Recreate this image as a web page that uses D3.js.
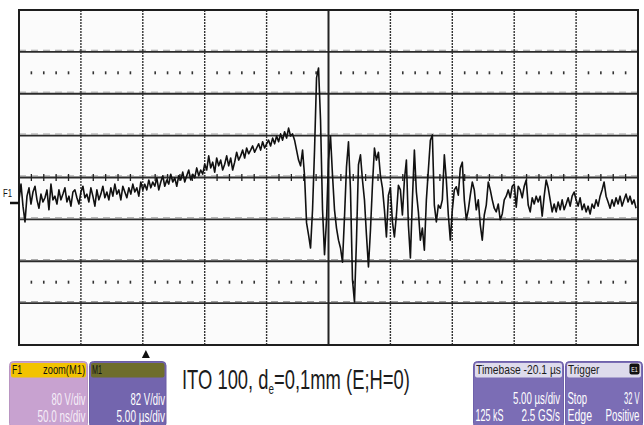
<!DOCTYPE html>
<html><head><meta charset="utf-8">
<script src="https://cdn.jsdelivr.net/npm/d3@7"></script>
<style>html,body{margin:0;padding:0;background:#fff;} svg{display:block}</style>
</head><body>
<svg id="chart" width="644" height="425"></svg>
<script>
// ---------------- data ----------------
const timePerDivUs = 5;          // 5.00 µs/div
const voltsPerDiv = 80;          // 80 V/div
const xDivisions = 10;
const yDivisions = 8;
const traceOffsetVolts = 48.7;   // value at the centre line
const sampleIntervalUs = 0.1613;
const triggerTimeUs = 10.25;

const traceVolts = [
  // 0 - 31
  6,36,-6,-36,13,29,-2,21,32,6,-10,17,2,10,25,-13,36,6,13,-2,25,6,17,29,2,13,-6,21,25,10,-2,21,
  // 32 - 62
  32,10,17,2,29,13,-6,25,6,17,32,10,21,6,29,13,36,17,25,6,32,21,10,29,17,36,21,29,13,40,25,
  // 63 - 93
  36,25,44,29,40,32,48,25,40,52,32,44,36,55,40,48,32,52,44,59,40,52,63,44,55,48,67,52,63,55,74,
  // 94 - 124
  63,90,67,78,59,86,71,82,63,74,90,71,86,63,78,97,82,90,101,86,105,94,101,109,97,105,113,101,117,105,113,
  // 125 - 143
  120,109,124,113,128,117,132,120,136,124,143,128,132,120,101,82,71,101,52,
  // 144 - 230
  -38,-61,-86,-13,101,239,258,159,-13,-99,
  -32,82,128,53,-13,-48,-71,-86,-113,-27,
  69,117,25,-147,-189,-71,73,92,44,6,
  -61,-122,-52,34,105,82,97,52,29,-13,
  -65,15,29,-36,-65,-23,34,25,-23,44,
  82,-42,-105,6,101,21,-17,-71,-48,-90,
  6,63,120,130,-4,-36,-4,-10,6,92,
  44,-23,-71,-13,25,31,15,67,78,6,
  -32,-13,15,40,25,-13,6,
  // 231 - 309
  -42,-71,-23,-4,40,25,6,-10,-17,-2,
  -32,-21,6,13,25,10,32,36,-8,32,
  25,10,32,44,-4,-17,10,-2,13,2,
  13,-25,13,44,29,6,-17,-2,-17,2,
  -13,6,-13,-2,10,-6,13,21,6,-6,
  10,-13,-2,-17,-6,-21,-2,-10,6,-6,
  13,25,40,13,2,-10,6,-6,10,-2,
  13,-6,6,17,2,13,-2,6,-10
];

const titleParts = ["ITO 100, d", "e", "=0,1mm (E;H=0)"];
const f1Texts = ["F1", "zoom(M1)", "80 V/div", "50.0 ns/div"];
const m1Texts = ["M1", "82 V/div", "5.00 µs/div"];
const timebaseTexts = ["Timebase -20.1 µs", "5.00 µs/div", "125 kS", "2.5 GS/s"];
const triggerTexts = ["Trigger", "Stop", "32 V", "Edge", "Positive"];

// ---------------- layout ----------------
const plot = {left: 19, right: 638, top: 10, bottom: 345};
const svg = d3.select("#chart");
const FONT = "'Liberation Sans', Arial, sans-serif";

const x = d3.scaleLinear().domain([0, xDivisions * timePerDivUs]).range([plot.left, plot.right]);
const y = d3.scaleLinear()
  .domain([traceOffsetVolts - yDivisions / 2 * voltsPerDiv, traceOffsetVolts + yDivisions / 2 * voltsPerDiv])
  .range([plot.bottom, plot.top]);
const gx = d3.scaleLinear().domain([0, xDivisions]).range([plot.left, plot.right]);
const gy = d3.scaleLinear().domain([0, yDivisions]).range([plot.top, plot.bottom]);

svg.append("rect").attr("width", 644).attr("height", 425).attr("fill", "#ffffff");
svg.append("rect").attr("x", plot.left).attr("y", plot.top)
  .attr("width", plot.right - plot.left).attr("height", plot.bottom - plot.top).attr("fill", "#fbfbfb");

const grid = svg.append("g");
// horizontal lines
d3.range(1, yDivisions).forEach(k => {
  grid.append("line").attr("x1", plot.left).attr("x2", plot.right)
    .attr("y1", gy(k)).attr("y2", gy(k)).attr("stroke", "#2b2b2b").attr("stroke-width", 1.8);
  grid.append("line").attr("x1", plot.left).attr("x2", plot.right)
    .attr("y1", gy(k) - 1.6).attr("y2", gy(k) - 1.6).attr("stroke", "#888")
    .attr("stroke-width", 0.8).attr("stroke-dasharray", "7,5");
});
// vertical lines
d3.range(1, xDivisions).forEach(k => {
  const centre = k === xDivisions / 2;
  grid.append("line").attr("x1", gx(k)).attr("x2", gx(k))
    .attr("y1", plot.top).attr("y2", plot.bottom)
    .attr("stroke", centre ? "#222" : "#333")
    .attr("stroke-width", centre ? 2 : 1.4)
    .attr("stroke-dasharray", centre ? null : "2,1");
});
// minor ticks on centre horizontal line
const minorX = d3.range(0, xDivisions * 5 + 1).map(i => gx(i / 5));
minorX.forEach((mx, i) => {
  if (i % 5 === 0) return;
  grid.append("line").attr("x1", mx).attr("x2", mx)
    .attr("y1", gy(yDivisions / 2) - 3.5).attr("y2", gy(yDivisions / 2) + 3.5)
    .attr("stroke", "#222").attr("stroke-width", 1.3);
});
// dotted rows
[1.5, yDivisions - 1.5].forEach(r => {
  minorX.forEach((mx, i) => {
    if (i % 5 === 0) return;
    grid.append("rect").attr("x", mx - 0.8).attr("y", gy(r) - 1.5)
      .attr("width", 1.6).attr("height", 3).attr("fill", "#333");
  });
});
// border
svg.append("rect").attr("x", plot.left).attr("y", plot.top)
  .attr("width", plot.right - plot.left).attr("height", plot.bottom - plot.top)
  .attr("fill", "none").attr("stroke", "#1e1e1e").attr("stroke-width", 2);

// trace
svg.append("clipPath").attr("id", "clip").append("rect")
  .attr("x", plot.left).attr("y", plot.top)
  .attr("width", plot.right - plot.left).attr("height", plot.bottom - plot.top);
const line = d3.line().x((d, i) => x(i * sampleIntervalUs)).y(d => y(d));
svg.append("path").datum(traceVolts).attr("d", line)
  .attr("clip-path", "url(#clip)")
  .attr("fill", "none").attr("stroke", "#111").attr("stroke-width", 1.6)
  .attr("stroke-linejoin", "round");

// text helper: draws text condensed to a given width with a transform
function txt(g, s, xx, yy, w, size, color, anchor) {
  const t = g.append("text").attr("font-family", FONT).attr("font-size", size)
    .attr("fill", color).attr("text-anchor", anchor || "start").text(s);
  const nat = t.node().getComputedTextLength();
  t.attr("transform", `translate(${xx},${yy}) scale(${w / nat},1)`);
  return t;
}

// F1 reference marker
txt(svg, "F1", 3, 197, 9, 11, "#111");
svg.append("line").attr("x1", 10).attr("x2", plot.left).attr("y1", y(0)).attr("y2", y(0))
  .attr("stroke", "#111").attr("stroke-width", 2.5);

// trigger arrow
const tx = x(triggerTimeUs);
svg.append("path").attr("d", `M${tx},${plot.bottom + 5} L${tx - 4},${plot.bottom + 13} L${tx + 4},${plot.bottom + 13} Z`)
  .attr("fill", "#111");

// panels
function panel(px, pw, bodyFill, headFill, stroke) {
  const g = svg.append("g");
  g.append("rect").attr("x", px).attr("y", 361.5).attr("width", pw).attr("height", 66)
    .attr("rx", 4).attr("fill", bodyFill).attr("stroke", stroke).attr("stroke-width", 1);
  g.append("rect").attr("x", px + 1.5).attr("y", 363).attr("width", pw - 3).attr("height", 14.5)
    .attr("rx", 2).attr("fill", headFill);
  return g;
}
const gF1 = panel(9.5, 78, "#c8a2d0", "#f2c300", "#b995c2");
txt(gF1, f1Texts[0], 12, 373.5, 10, 13, "#111");
txt(gF1, f1Texts[1], 85, 373.5, 42, 13, "#111", "end");
txt(gF1, f1Texts[2], 85.5, 405, 34, 16.5, "#f6eef8", "end");
txt(gF1, f1Texts[3], 85.5, 421.5, 48, 16.5, "#f6eef8", "end");

const gM1 = panel(89.5, 76.5, "#7365ae", "#6e6d2b", "#6a5da4");
txt(gM1, m1Texts[0], 92, 373.5, 10, 13, "#111");
txt(gM1, m1Texts[1], 165, 405, 34.5, 16.5, "#ffffff", "end");
txt(gM1, m1Texts[2], 165, 421.5, 48.5, 16.5, "#ffffff", "end");

const gTB = panel(473.5, 90, "#7b6db5", "#dedbec", "#6e61aa");
txt(gTB, timebaseTexts[0], 476, 373.5, 85, 13, "#1a1a1a");
txt(gTB, timebaseTexts[1], 560, 404, 47, 16.5, "#ffffff", "end");
txt(gTB, timebaseTexts[2], 475.5, 420.7, 28, 16.5, "#ffffff");
txt(gTB, timebaseTexts[3], 560, 420.7, 38.5, 16.5, "#ffffff", "end");

const gTR = panel(565.5, 77, "#7b6db5", "#dedbec", "#6e61aa");
txt(gTR, triggerTexts[0], 568, 373.5, 31.5, 13, "#1a1a1a");
gTR.append("rect").attr("x", 629.5).attr("y", 363.5).attr("width", 10).attr("height", 11)
  .attr("rx", 2).attr("fill", "#111");
txt(gTR, "E1", 634.5, 372, 6.5, 8, "#fff", "middle");
txt(gTR, triggerTexts[1], 567.5, 404, 19.5, 16.5, "#ffffff");
txt(gTR, triggerTexts[2], 639.5, 404, 15.5, 16.5, "#ffffff", "end");
txt(gTR, triggerTexts[3], 567.5, 420.7, 24.5, 16.5, "#ffffff");
txt(gTR, triggerTexts[4], 639.5, 420.7, 34, 16.5, "#ffffff", "end");

// title
const title = svg.append("text").attr("font-family", FONT).attr("font-size", 28).attr("fill", "#1c1c1c");
title.append("tspan").text(titleParts[0]);
title.append("tspan").attr("font-size", 15).attr("dy", 5).text(titleParts[1]);
title.append("tspan").attr("dy", -5).text(titleParts[2]);
const tw = title.node().getBBox().width;
title.attr("transform", `translate(182,388.5) scale(${228 / tw},1)`);
</script>
</body></html>
